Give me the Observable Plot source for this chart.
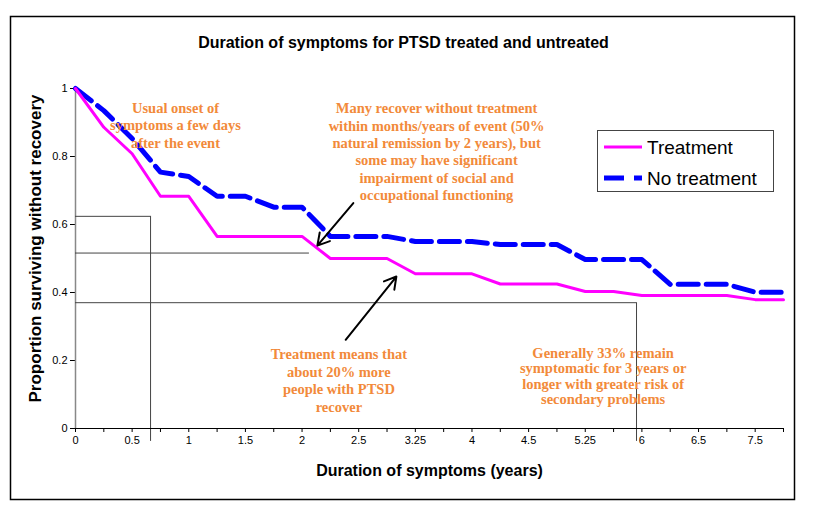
<!DOCTYPE html>
<html>
<head>
<meta charset="utf-8">
<script src="https://cdn.jsdelivr.net/npm/d3@7"></script>
<script src="https://cdn.jsdelivr.net/npm/@observablehq/plot@0.6"></script>
<style>
  html, body { margin: 0; padding: 0; background: #fff; }
</style>
</head>
<body>
<div id="chart"></div>
<script>
// Category tick labels (every other category is labelled)
const xLabels = ["0","0.5","1","1.5","2","2.5","3.25","4","4.5","5.25","6","6.5","7.5"];
const yTicks = [0, 0.2, 0.4, 0.6, 0.8, 1];

// Series (one value per category, 26 categories)
const treatment = [1, 0.886, 0.808, 0.683, 0.683, 0.565, 0.565, 0.565, 0.565, 0.5, 0.5, 0.5, 0.455, 0.455, 0.455, 0.425, 0.425, 0.425, 0.403, 0.403, 0.391, 0.391, 0.391, 0.391, 0.379, 0.379];
const noTreatment = [1, 0.935, 0.853, 0.754, 0.741, 0.683, 0.683, 0.651, 0.651, 0.565, 0.565, 0.565, 0.55, 0.55, 0.55, 0.541, 0.541, 0.541, 0.497, 0.497, 0.497, 0.424, 0.424, 0.424, 0.401, 0.401];

// Guide lines drawn on the chart (category index / proportion)
const guideH = [
  {y: 0.624, x1: 0, x2: 2.65},
  {y: 0.516, x1: 0, x2: 8.26},
  {y: 0.37, x1: 0, x2: 19.81}
];
const guideV = [
  {x: 2.65, y1: 0.624, y2: -0.038},
  {x: 19.81, y1: 0.37, y2: -0.038}
];

// Arrows
const arrows = [
  {x1: 9.81, y1: 0.663, x2: 8.54, y2: 0.538},
  {x1: 9.54, y1: 0.261, x2: 11.33, y2: 0.447}
];

// Annotations
const notes = [
  {x: 3.53, y: 0.893, lh: 1.2, text: "Usual onset of\nsymptoms a few days\nafter the event"},
  {x: 12.75, y: 0.816, lh: 1.2, text: "Many recover without treatment\nwithin months/years of event (50%\nnatural remission by 2 years), but\nsome may have significant\nimpairment of social and\noccupational functioning"},
  {x: 9.3, y: 0.143, lh: 1.2, text: "Treatment means that\nabout 20% more\npeople with PTSD\nrecover"},
  {x: 18.63, y: 0.154, lh: 1.05, text: "Generally 33% remain\nsymptomatic for 3 years or\nlonger with greater risk of\nsecondary problems"}
];

const titleText = "Duration of symptoms for PTSD treated and untreated";
const xTitle = "Duration of symptoms (years)";
const yTitle = "Proportion surviving without recovery";
const seriesNames = ["Treatment", "No treatment"];
const seriesColors = ["#ff00ff", "#0000ff"];

const orange = "#f28a3a";

const noteMarks = notes.map(n => Plot.text([n], {
  x: "x", y: "y", text: "text", lineHeight: n.lh, fill: orange, fontSize: 14.5, fontWeight: "bold",
  fontFamily: "'Liberation Serif', 'Times New Roman', serif", textAnchor: "middle", lineAnchor: "middle"
}));

const chart = Plot.plot({
  width: 813,
  height: 517,
  marginLeft: 75,
  marginRight: 30,
  marginTop: 88,
  marginBottom: 89,
  style: {fontFamily: "'Liberation Sans', Arial, sans-serif", background: "#fff", color: "#000"},
  x: {type: "linear", domain: [0, 25]},
  y: {domain: [0, 1]},
  marks: [
    Plot.axisX({ticks: d3.range(26), tickFormat: i => (i % 2 === 0 ? xLabels[i / 2] : ""), tickSize: 4, tickPadding: 4, fontSize: 11, label: null}),
    Plot.axisY({ticks: yTicks, tickFormat: d => String(d), tickSize: 5, tickPadding: 3, fontSize: 11, label: null}),
    Plot.ruleX([0], {stroke: "#888", strokeWidth: 1.5}),
    Plot.ruleY(guideH, {y: "y", x1: "x1", x2: "x2", stroke: "#444", strokeWidth: 1}),
    Plot.ruleX(guideV, {x: "x", y1: "y1", y2: "y2", stroke: "#444", strokeWidth: 1}),
    Plot.ruleY([0], {stroke: "#000", strokeWidth: 1.2}),
    Plot.line(noTreatment, {x: (d, i) => i, y: d => d, stroke: seriesColors[1], strokeWidth: 5, strokeDasharray: "20,8"}),
    Plot.line(treatment, {x: (d, i) => i, y: d => d, stroke: seriesColors[0], strokeWidth: 3}),
    Plot.arrow(arrows, {x1: "x1", y1: "y1", x2: "x2", y2: "y2", stroke: "#000", strokeWidth: 2, headLength: 10}),
    ...noteMarks,
    Plot.text([titleText], {frameAnchor: "top", lineAnchor: "middle", dx: -26, dy: -46, fontSize: 16, fontWeight: "bold", fill: "#000"}),
    Plot.text([xTitle], {frameAnchor: "bottom", lineAnchor: "middle", dy: 42, fontSize: 16, fontWeight: "bold", fill: "#000"}),
    Plot.text([yTitle], {frameAnchor: "left", dx: -40, dy: -10, rotate: -90, textAnchor: "middle", lineAnchor: "middle", fontSize: 17, fontWeight: "bold", fill: "#000"})
  ]
});

const svg = d3.select(chart);
// outer chart border
svg.append("rect").attr("x", 10.5).attr("y", 16.5).attr("width", 784).attr("height", 483)
  .attr("fill", "none").attr("stroke", "#000").attr("stroke-width", 1.5);

// legend
const lg = svg.append("g");
lg.append("rect").attr("x", 597.5).attr("y", 130.5).attr("width", 176).attr("height", 61)
  .attr("fill", "#fff").attr("stroke", "#444").attr("stroke-width", 1);
seriesNames.forEach((name, i) => {
  const y = 147 + i * 31;
  lg.append("line").attr("x1", 604).attr("x2", 642).attr("y1", y).attr("y2", y)
    .attr("stroke", seriesColors[i]).attr("stroke-width", i === 0 ? 3 : 5)
    .attr("stroke-dasharray", i === 0 ? null : "20,10");
  lg.append("text").attr("x", 647).attr("y", y).attr("dy", "0.35em")
    .attr("text-anchor", "start")
    .attr("font-family", "'Liberation Sans', Arial, sans-serif").attr("font-size", 19)
    .attr("fill", "#000").text(name);
});

document.getElementById("chart").appendChild(chart);
</script>
</body>
</html>
